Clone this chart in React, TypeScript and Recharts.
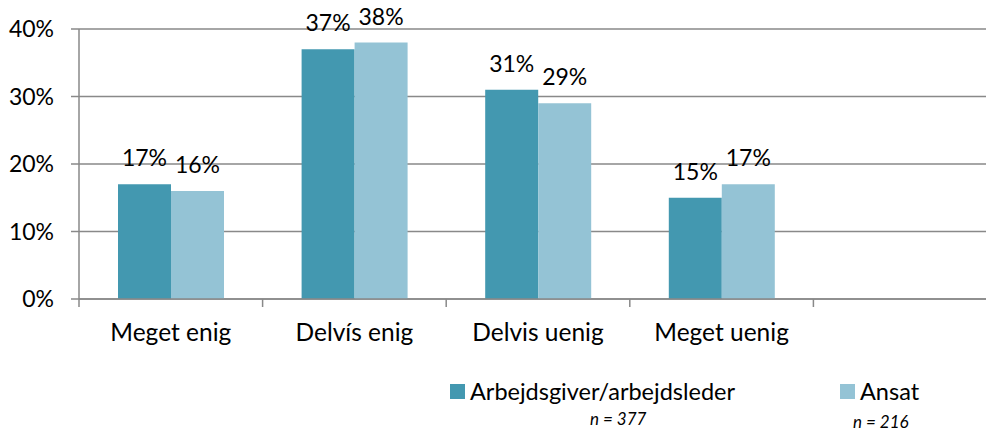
import { BarChart, Bar, XAxis, YAxis, CartesianGrid, LabelList } from "recharts";

const categories = ["Meget enig", "Delvís enig", "Delvis uenig", "Meget uenig", ""];
const employerValues: (number | null)[] = [17, 37, 31, 15, null];
const employeeValues: (number | null)[] = [16, 38, 29, 17, null];
const yTicks = [0, 10, 20, 30, 40];
const seriesNames = ["Arbejdsgiver/arbejdsleder", "Ansat"];
const sampleSizes = ["n = 377", "n = 216"];

const DARK = "#4398b0";
const LIGHT = "#94c3d5";
const AXIS = "#898989";
const FONT = "Lato, 'Open Sans', sans-serif";

const data = categories.map((name, i) => ({
  name,
  employer: employerValues[i],
  employee: employeeValues[i],
}));

const pct = (v: any) => (v === null || v === undefined ? "" : `${v}%`);

const CategoryTick = (props: any) => {
  const { x, y, payload } = props;
  const half = payload?.offset ?? 91.8;
  return (
    <g>
      <line x1={x - half} x2={x - half} y1={y - 24} y2={y - 16} stroke={AXIS} strokeWidth={1.5} />
      <text x={x} y={y} dy="0.72em" textAnchor="middle" fill="#000" fontSize={24.5} fontFamily={FONT}>
        {payload.value}
      </text>
    </g>
  );
};

const App = () => {
  return (
    <div
      style={{
        position: "fixed",
        left: 0,
        top: 0,
        width: 986,
        height: 432,
        overflow: "hidden",
        background: "#fff",
        fontFamily: FONT,
      }}
    >
      <BarChart
        width={997}
        height={432}
        data={data}
        margin={{ top: 29, right: 0, left: 0, bottom: 73 }}
        barGap={0}
        barCategoryGap={39}
      >
        <CartesianGrid horizontal vertical={false} stroke={AXIS} strokeWidth={1.5} />
        <XAxis
          dataKey="name"
          height={60}
          stroke={AXIS}
          strokeWidth={1.5}
          tickLine={false}
          tickSize={0}
          tickMargin={24}
          tick={<CategoryTick />}
          interval={0}
        />
        <YAxis
          width={79}
          domain={[0, 40]}
          ticks={yTicks}
          tickFormatter={(v: number) => `${v}%`}
          stroke={AXIS}
          strokeWidth={1.5}
          tickSize={8}
          tickMargin={17}
          tick={{ fill: "#000", fontSize: 23, fontFamily: FONT }}
        />
        <Bar dataKey="employer" name={seriesNames[0]} fill={DARK} isAnimationActive={false}>
          <LabelList dataKey="employer" position="top" offset={18} formatter={pct} fill="#000" fontSize={23} fontFamily={FONT} />
        </Bar>
        <Bar dataKey="employee" name={seriesNames[1]} fill={LIGHT} isAnimationActive={false}>
          <LabelList dataKey="employee" position="top" offset={18} formatter={pct} fill="#000" fontSize={23} fontFamily={FONT} />
        </Bar>
      </BarChart>
      <div style={{ position: "absolute", left: 450, top: 377, display: "flex", alignItems: "center", fontSize: 23.5, color: "#000" }}>
        <span style={{ width: 15, height: 15, background: DARK, marginRight: 5, display: "inline-block" }} />
        {seriesNames[0]}
      </div>
      <div style={{ position: "absolute", left: 840, top: 377, display: "flex", alignItems: "center", fontSize: 23.5, color: "#000" }}>
        <span style={{ width: 15, height: 15, background: LIGHT, marginRight: 5, display: "inline-block" }} />
        {seriesNames[1]}
      </div>
      <div style={{ position: "absolute", left: 590, top: 408, fontSize: 17, fontStyle: "italic", color: "#000" }}>
        {sampleSizes[0]}
      </div>
      <div style={{ position: "absolute", left: 853, top: 411, fontSize: 17, fontStyle: "italic", color: "#000" }}>
        {sampleSizes[1]}
      </div>
    </div>
  );
};

export default App;
